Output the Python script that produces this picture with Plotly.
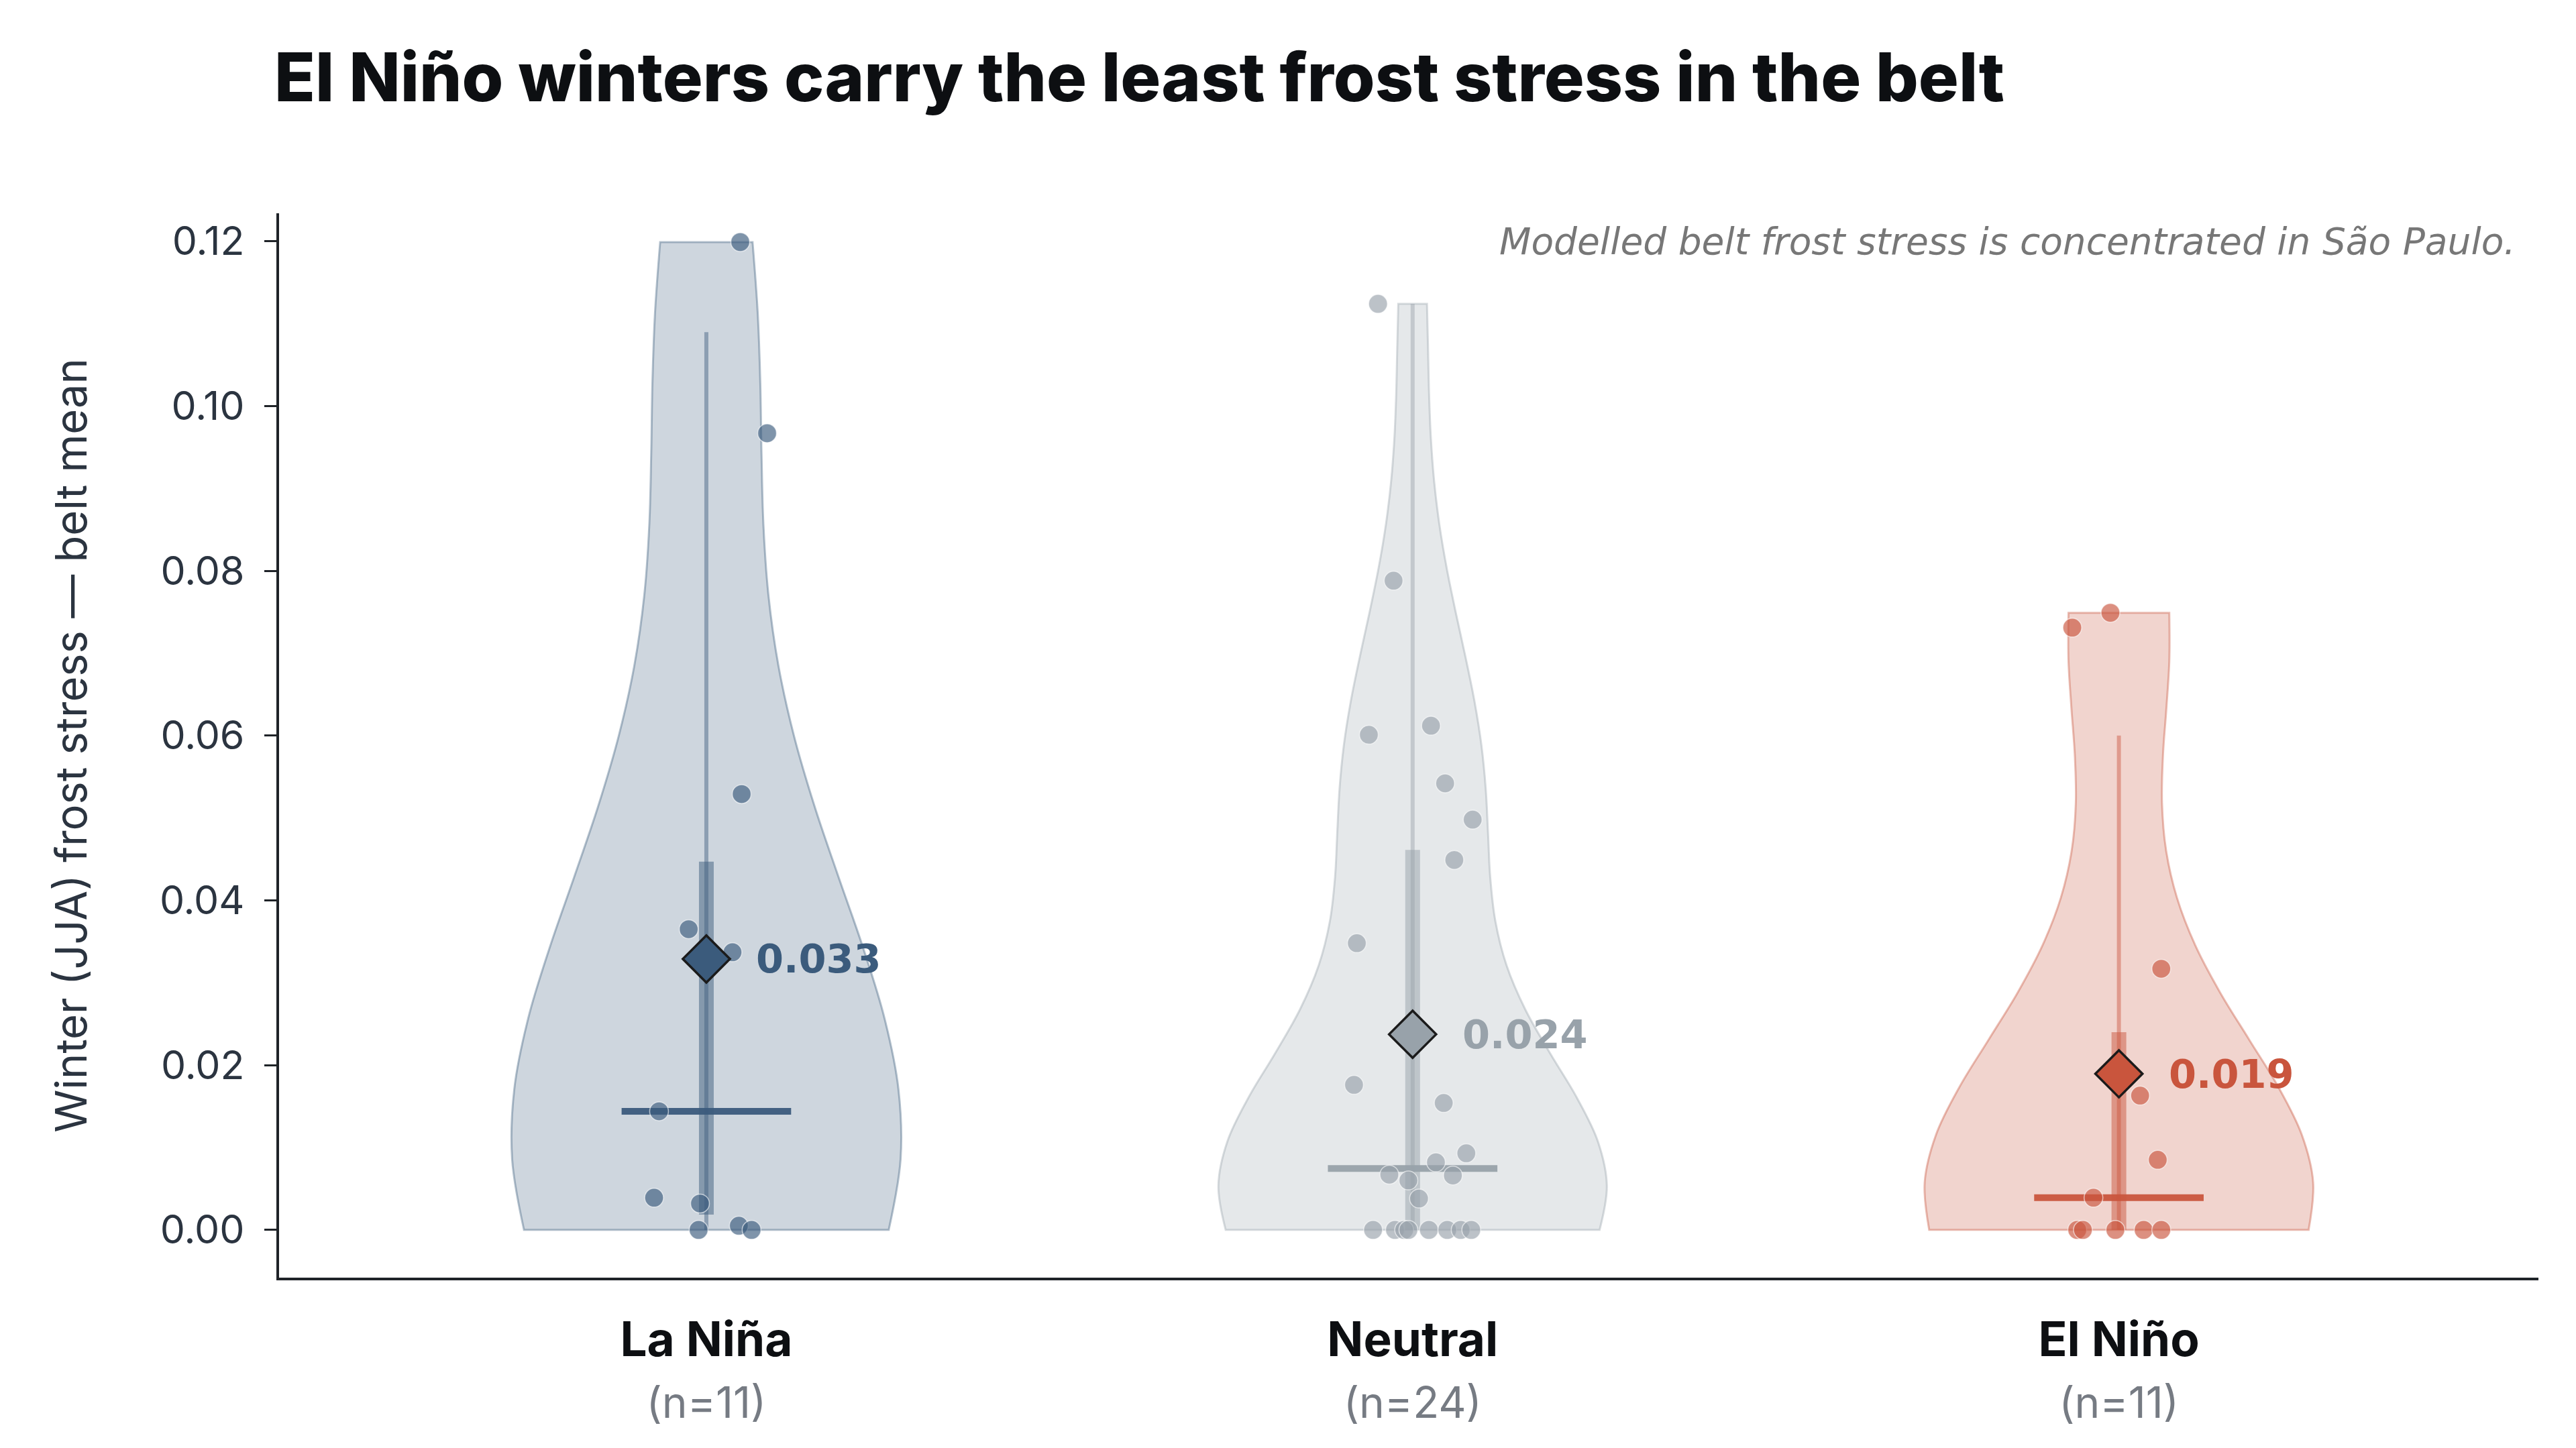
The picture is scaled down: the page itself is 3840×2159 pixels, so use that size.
import numpy as np
import plotly.graph_objects as go

# ---------------- data ----------------
categories = ["La Niña", "Neutral", "El Niño"]
counts_label = ["(n=11)", "(n=24)", "(n=11)"]

la_nina_values = [0.1199, 0.0967, 0.0529, 0.0365, 0.0337, 0.0144, 0.0039, 0.0032, 0.0, 0.0005, 0.0]
la_nina_jitter = [0.048, 0.086, 0.050, -0.025, 0.037, -0.067, -0.074, -0.009, -0.011, 0.046, 0.064]

neutral_values = [0.1124, 0.0788, 0.0601, 0.0612, 0.0542, 0.0498, 0.0449, 0.0348, 0.0176, 0.0154,
                  0.0093, 0.0082, 0.0067, 0.0066, 0.0060, 0.0038,
                  0.0, 0.0, 0.0, 0.0, 0.0, 0.0, 0.0, 0.0]
neutral_jitter = [-0.049, -0.027, -0.062, 0.026, 0.046, 0.085, 0.059, -0.079, -0.083, 0.044,
                  0.076, 0.033, -0.033, 0.057, -0.006, 0.009,
                  -0.056, -0.025, -0.012, -0.006, 0.023, 0.049, 0.068, 0.083]

el_nino_values = [0.0749, 0.0731, 0.0317, 0.0163, 0.0085, 0.0039, 0.0, 0.0, 0.0, 0.0, 0.0]
el_nino_jitter = [-0.012, -0.066, 0.060, 0.030, 0.055, -0.036, -0.059, -0.051, -0.005, 0.035, 0.060]

series_values = [la_nina_values, neutral_values, el_nino_values]
series_jitter = [la_nina_jitter, neutral_jitter, el_nino_jitter]

y_tick_values = [0.00, 0.02, 0.04, 0.06, 0.08, 0.10, 0.12]

# ---------------- styling ----------------
accent_rgb = [(59, 91, 124), (152, 162, 170), (201, 85, 61)]
title_text = "El Niño winters carry the least frost stress in the belt"
y_title = "Winter (JJA) frost stress — belt mean"
note_text = "Modelled belt frost stress is concentrated in São Paulo."


def rgba(rgb, a):
    return f"rgba({rgb[0]},{rgb[1]},{rgb[2]},{a})"


def hexc(rgb):
    return "#%02x%02x%02x" % rgb


fig = go.Figure()
annotations = []

for i, (vals, jit, rgb) in enumerate(zip(series_values, series_jitter, accent_rgb)):
    y = np.array(vals, dtype=float)
    n = len(y)
    bw = np.std(y, ddof=1) * n ** (-1 / 5)  # Scott's rule
    fig.add_trace(go.Violin(
        x=[i] * n, y=y, bandwidth=bw, spanmode="hard", width=0.55,
        scalemode="width", points=False, box_visible=False, meanline_visible=False,
        fillcolor=rgba(rgb, 0.25), line=dict(color=rgba(rgb, 0.38), width=3),
        hoverinfo="skip", showlegend=False,
    ))

    q1, med, q3 = np.percentile(y, [25, 50, 75])
    iqr = q3 - q1
    w_lo = max(y.min(), q1 - 1.5 * iqr)
    w_hi = min(y.max(), q3 + 1.5 * iqr)
    mean = y.mean()

    # whisker
    fig.add_trace(go.Scatter(x=[i, i], y=[w_lo, w_hi], mode="lines",
                             line=dict(color=rgba(rgb, 0.45), width=6),
                             hoverinfo="skip", showlegend=False))
    # IQR bar
    fig.add_trace(go.Scatter(x=[i, i], y=[q1, q3], mode="lines",
                             line=dict(color=rgba(rgb, 0.5), width=22),
                             hoverinfo="skip", showlegend=False))
    # median
    fig.add_trace(go.Scatter(x=[i - 0.12, i + 0.12], y=[med, med], mode="lines",
                             line=dict(color=rgba(rgb, 0.95), width=10),
                             hoverinfo="skip", showlegend=False))
    # points
    fig.add_trace(go.Scatter(x=[i + j for j in jit], y=y, mode="markers",
                             marker=dict(size=28, color=rgba(rgb, 0.65),
                                         line=dict(color="rgba(255,255,255,0.6)", width=1.5)),
                             hoverinfo="skip", showlegend=False))
    # mean diamond
    fig.add_trace(go.Scatter(x=[i], y=[mean], mode="markers",
                             marker=dict(symbol="diamond", size=54, color=hexc(rgb),
                                         line=dict(color="#1b1b1b", width=3.5)),
                             hoverinfo="skip", showlegend=False))
    annotations.append(dict(
        x=i, y=mean, xref="x", yref="y", xshift=72, xanchor="left", yanchor="middle",
        text=f"<b>{mean:.3f}</b>", showarrow=False,
        font=dict(family="DejaVu Sans", size=59, color=hexc(rgb)),
    ))

L, R, T, B = 416, 56, 318, 254
W, H = 3840, 2159
pw, ph = W - L - R, H - T - B

annotations.append(dict(
    x=(3752 - L) / pw, y=(H - B - 360) / ph, xref="paper", yref="paper", xanchor="right",
    yanchor="middle", text=note_text, showarrow=False,
    font=dict(family="DejaVu Sans", size=55, color="#777777", style="italic"),
))

ticktext = [f"<b>{c}</b><br><span style='font-size:64px;color:#767b83;font-weight:400'>{n}</span>"
            for c, n in zip(categories, counts_label)]

fig.update_layout(
    width=W, height=H,
    margin=dict(l=L, r=R, t=T, b=B),
    paper_bgcolor="white", plot_bgcolor="white",
    font=dict(family="Inter", color="#2f3742"),
    title=dict(text=title_text, x=409 / W, xref="container", xanchor="left",
               y=1 - 116 / H, yref="container", yanchor="middle",
               font=dict(family="Inter", size=100, weight=800, color="#0d0f12")),
    annotations=annotations,
    showlegend=False,
)
fig.update_xaxes(
    range=[-0.605, 2.594], tickvals=[0, 1, 2], ticktext=ticktext,
    showline=True, linecolor="#1f2328", linewidth=3.5, ticks="",
    ticklabelstandoff=28,
    showgrid=False, zeroline=False,
    tickfont=dict(family="Inter", size=71, color="#0d0f12"),
)
fig.update_yaxes(
    range=[-0.0058, 0.1234], tickvals=y_tick_values, tickformat=".2f",
    showline=True, linecolor="#1f2328", linewidth=3.5,
    ticks="outside", ticklen=18, tickwidth=3, tickcolor="#1f2328",
    ticklabelstandoff=18,
    showgrid=False, zeroline=False,
    tickfont=dict(family="Inter", size=59, color="#2b3440"),
    title=dict(text=y_title, standoff=88, font=dict(family="Inter", size=65, color="#2b3440")),
)

fig.write_html("out.html")
